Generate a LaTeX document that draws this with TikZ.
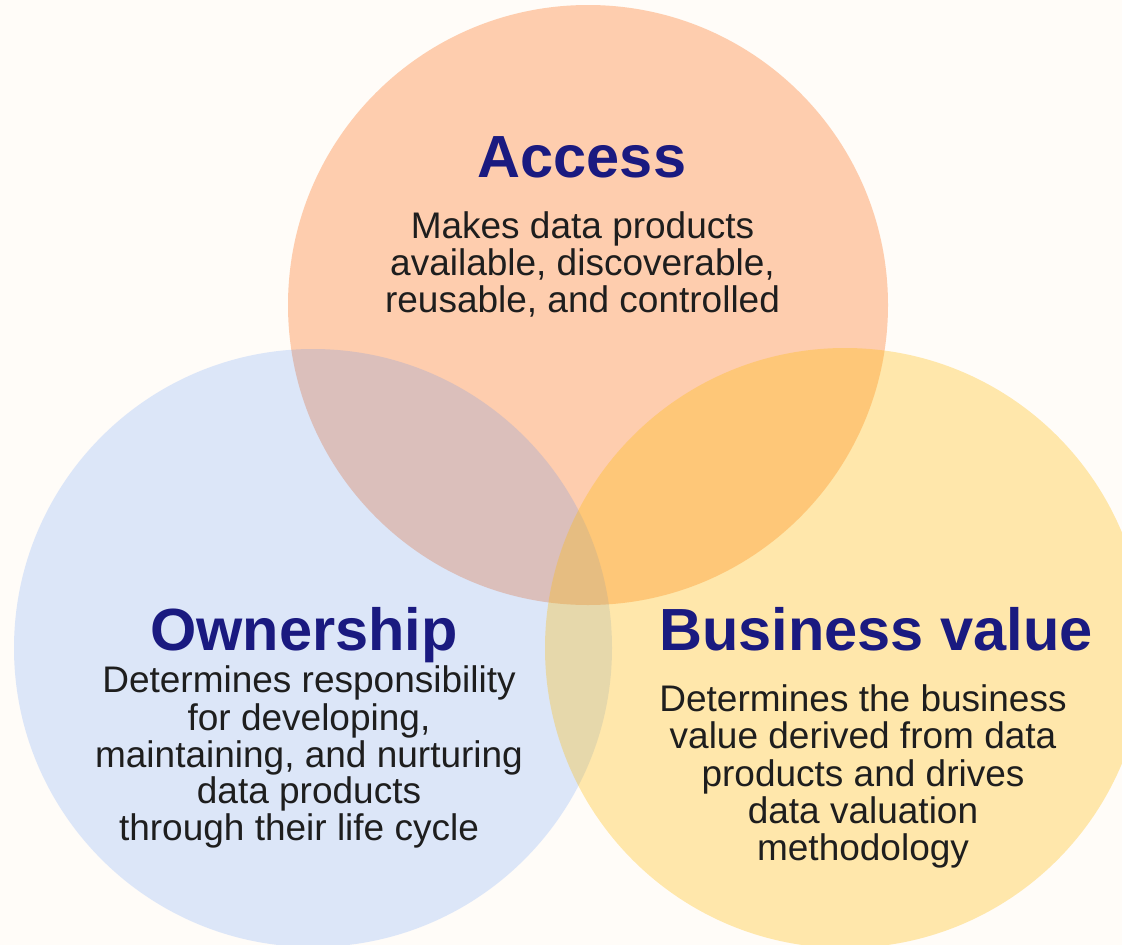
\documentclass[tikz,border=0pt]{standalone}
\usepackage{fontspec}
\setmainfont{Liberation Sans}
\definecolor{bg}{RGB}{255,252,248}
\definecolor{accessfill}{RGB}{254,205,174}
\definecolor{ownfill}{RGB}{49,123,253}
\definecolor{bizfill}{RGB}{255,186,0}
\definecolor{titlecol}{RGB}{26,26,128}
\definecolor{bodycol}{RGB}{30,30,30}
\begin{document}
\begin{tikzpicture}[x=1pt,y=-1pt,
  titletext/.style={anchor=base,inner sep=0pt,text=titlecol,font=\fontsize{59.5}{61}\selectfont\bfseries},
  bodytext/.style={anchor=base,inner sep=0pt,text=bodycol,font=\fontsize{37}{38}\selectfont}]
\fill[bg] (0,0) rectangle (1122,945);
\useasboundingbox (0,0) rectangle (1122,945);
% circles
\fill[accessfill] (588,305) circle[radius=300];
\fill[ownfill,fill opacity=0.17] (313,648) circle[radius=299];
\fill[bizfill,fill opacity=0.31] (845,648) circle[radius=300];
% Access
\node[titletext] (accT) at (582,177) {Access};
\node[bodytext] (acc1) at (582.5,238) {Makes data products};
\node[bodytext] (acc2) at (582.5,275) {available, discoverable,};
\node[bodytext] (acc3) at (582.5,312) {reusable, and controlled};
% Ownership
\node[titletext] (ownT) at (304,650) {Ownership};
\node[bodytext] (own1) at (309,692) {Determines responsibility};
\node[bodytext] (own2) at (309,730) {for developing,};
\node[bodytext] (own3) at (309,767) {maintaining, and nurturing};
\node[bodytext] (own4) at (309,803) {data products};
\node[bodytext] (own5) at (299,840) {through their life cycle};
% Business value
\node[titletext] (bizT) at (876,650) {Business value};
\node[bodytext] (biz1) at (863,711) {Determines the business};
\node[bodytext] (biz2) at (863,748) {value derived from data};
\node[bodytext] (biz3) at (863,786) {products and drives};
\node[bodytext] (biz4) at (863,823) {data valuation};
\node[bodytext] (biz5) at (863,860) {methodology};
\end{tikzpicture}
\end{document}
